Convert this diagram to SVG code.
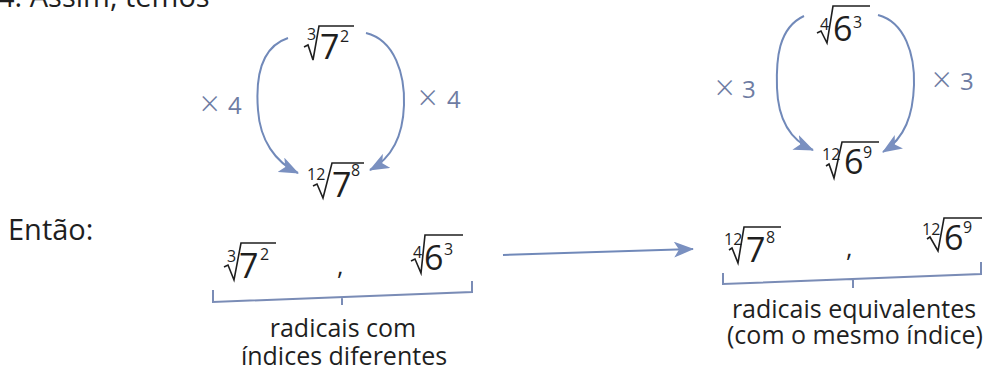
<svg xmlns="http://www.w3.org/2000/svg" width="984" height="374" viewBox="0 0 984 374">
<style>
text{font-family:"Open Sans","Noto Sans","Liberation Sans",sans-serif;fill:#1f1f1f}
.big{font-size:34px}
.sm{font-size:16px}
.lbl{font-size:25px}
.hd{font-size:29px}
.mul{font-size:24px;fill:#6e7ca3}
.x{font-size:34px;font-weight:300}
.rad{fill:none;stroke:#1f1f1f;stroke-width:1.6;stroke-linejoin:miter}
.con{fill:none;stroke:#7189b9;stroke-width:2}
.brk{fill:none;stroke:#7a8cb6;stroke-width:2}
</style>
<defs>
<marker id="ah" viewBox="0 0 20 16" refX="19" refY="8" markerWidth="20" markerHeight="16" markerUnits="userSpaceOnUse" orient="auto">
<path d="M0,0 L20,8 L0,16 L5,8 z" fill="#7a90c0"/>
</marker>
</defs>
<rect width="984" height="374" fill="#ffffff"/>

<g id="heading">
<text class="hd" x="-2" y="7">4. Assim, temos</text>
<text class="hd" x="8" y="240">Então:</text>
</g>

<g id="connectors">
<path class="con" d="M288,38 C258,48 256,85 258,110 C260,140 275,162 298,173" marker-end="url(#ah)"/>
<path class="con" d="M366,33 C395,40 405,75 404,105 C403,135 392,158 370,170" marker-end="url(#ah)"/>
<path class="con" d="M804,16 C778,28 776,60 777,88 C778,118 790,140 813,150" marker-end="url(#ah)"/>
<path class="con" d="M878,15 C905,22 915,55 914,85 C913,115 905,138 883,152" marker-end="url(#ah)"/>
<path class="con" d="M503,255 L693,249" marker-end="url(#ah)"/>
<text class="mul" x="200" y="114"><tspan class="x" dy="2">×</tspan><tspan x="228" dy="-2">4</tspan></text>
<text class="mul" x="418" y="108"><tspan class="x" dy="2">×</tspan><tspan x="447" dy="-2">4</tspan></text>
<text class="mul" x="715" y="98"><tspan class="x" dy="2">×</tspan><tspan x="742" dy="-2">3</tspan></text>
<text class="mul" x="932" y="90"><tspan class="x" dy="2">×</tspan><tspan x="960" dy="-2">3</tspan></text>
</g>

<g id="top-7">
<text class="sm" x="307" y="40">3</text>
<path class="rad" d="M304,47 L308,45 L313,60 L319,26 H354"/>
<text class="big" x="320" y="59">7</text>
<text class="sm" x="340" y="42">2</text>
</g>

<g id="top-7-12">
<text class="sm" x="307" y="180">12</text>
<path class="rad" d="M313,186 L317,184 L323,198 L332,163 H364"/>
<text class="big" x="332" y="197">7</text>
<text class="sm" x="351" y="176">8</text>
</g>

<g id="top-6">
<text class="sm" x="820" y="30">4</text>
<path class="rad" d="M817,33 L821,31 L827,43 L833,6 H870"/>
<text class="big" x="833" y="41">6</text>
<text class="sm" x="853" y="28">3</text>
</g>

<g id="top-6-12">
<text class="sm" x="822" y="160">12</text>
<path class="rad" d="M826,166 L829,164 L834,178 L842,142 H879"/>
<text class="big" x="844" y="174">6</text>
<text class="sm" x="863" y="158">9</text>
</g>

<g id="pair-original">
<text class="sm" x="227" y="262">3</text>
<path class="rad" d="M224,267 L228,265 L234,280 L241,243 H276"/>
<text class="big" x="239" y="278">7</text>
<text class="sm" x="260" y="260">2</text>
<text class="lbl" x="337" y="275">,</text>
<text class="sm" x="413" y="258">4</text>
<path class="rad" d="M411,261 L415,259 L421,273 L425,235 H463"/>
<text class="big" x="424" y="270">6</text>
<text class="sm" x="444" y="255">3</text>
<path class="brk" d="M213,290 V302 L472,292 V281 M342,297 V305"/>
<text class="lbl" x="343" y="337" text-anchor="middle">radicais com</text>
<text class="lbl" x="344" y="365" text-anchor="middle">índices diferentes</text>
</g>

<g id="pair-equivalent">
<text class="sm" x="724" y="245">12</text>
<path class="rad" d="M729,250 L732,248 L738,263 L744,227 H781"/>
<text class="big" x="746" y="262">7</text>
<text class="sm" x="766" y="243">8</text>
<text class="lbl" x="846" y="257">,</text>
<text class="sm" x="922" y="235">12</text>
<path class="rad" d="M927,239 L930,237 L938,251 L944,218 H982"/>
<text class="big" x="944" y="250">6</text>
<text class="sm" x="963" y="233">9</text>
<path class="brk" d="M723,273 V284 L981,274 V262 M853,279 V288"/>
<text class="lbl" x="854" y="318" text-anchor="middle">radicais equivalentes</text>
<text class="lbl" x="855" y="344" text-anchor="middle">(com o mesmo índice)</text>
</g>
</svg>
